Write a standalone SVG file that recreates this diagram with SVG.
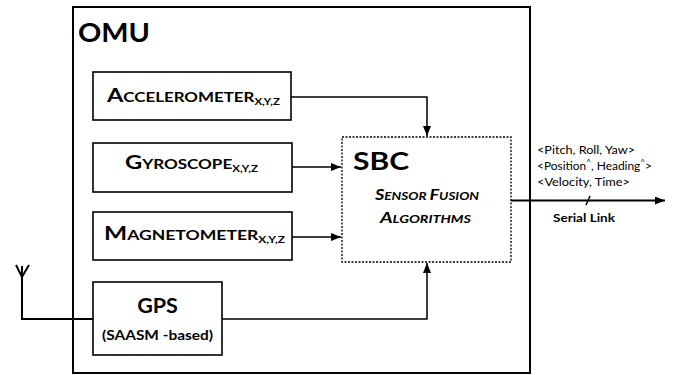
<svg xmlns="http://www.w3.org/2000/svg" width="673" height="375" viewBox="0 0 673 375">
  <style>
    text { font-family: Lato, "Liberation Sans", sans-serif; fill: #000; }
    .b { font-weight: bold; }
    .box { fill: #fff; stroke: #000; stroke-width: 1.6; }
    .omu { fill: none; stroke: #000; stroke-width: 2; }
    .sbc { fill: #fff; stroke: #000; stroke-width: 1.3; stroke-dasharray: 2 1.5; }
    .wire { fill: none; stroke: #000; stroke-width: 1.5; }
    .thick { fill: none; stroke: #000; stroke-width: 2; }
    .small { font-size: 11.5px; }
  </style>
  <defs>
    <marker id="arrow" viewBox="0 0 10 8" refX="10" refY="4" markerWidth="10" markerHeight="8" markerUnits="userSpaceOnUse" orient="auto">
      <path d="M0,0 L10,4 L0,8 Z" fill="#000"/>
    </marker>
  </defs>
  <rect width="673" height="375" fill="#fff"/>

  <!-- outer module -->
  <g id="omu">
    <rect class="omu" x="73" y="7" width="457" height="366"/>
    <text class="b" x="78" y="42" font-size="27" textLength="72" lengthAdjust="spacingAndGlyphs">OMU</text>
  </g>

  <!-- connectors -->
  <g id="connectors">
    <path class="wire" d="M291,97 H427 V136" marker-end="url(#arrow)"/>
    <path class="wire" d="M292,167 H341" marker-end="url(#arrow)"/>
    <path class="wire" d="M292,237 H341" marker-end="url(#arrow)"/>
    <path class="wire" d="M222,319 H427 V263" marker-end="url(#arrow)"/>
    <path class="thick" d="M93,319 H22 V266"/>
    <path class="thick" d="M16,265 L22,277 L29,265"/>
    <path class="thick" d="M511,200.5 H665" marker-end="url(#arrow)"/>
    <path class="wire" d="M586,205 L590,196"/>
  </g>

  <g id="accelerometer">
    <rect class="box" x="93" y="72" width="198" height="48"/>
    <text class="b" x="107" y="102" textLength="173" lengthAdjust="spacingAndGlyphs"><tspan font-size="19.5">A</tspan><tspan font-size="14">CCELEROMETER</tspan><tspan font-size="9.5" dy="3">X,Y,Z</tspan></text>
  </g>

  <g id="gyroscope">
    <rect class="box" x="93" y="143" width="199" height="49"/>
    <text class="b" x="125" y="169" textLength="133" lengthAdjust="spacingAndGlyphs"><tspan font-size="19.5">G</tspan><tspan font-size="14">YROSCOPE</tspan><tspan font-size="9.5" dy="3">X,Y,Z</tspan></text>
  </g>

  <g id="magnetometer">
    <rect class="box" x="93" y="212" width="199" height="48"/>
    <text class="b" x="104" y="240" textLength="181" lengthAdjust="spacingAndGlyphs"><tspan font-size="19.5">M</tspan><tspan font-size="14">AGNETOMETER</tspan><tspan font-size="9.5" dy="3">X,Y,Z</tspan></text>
  </g>

  <g id="gps">
    <rect class="box" x="93" y="282" width="129" height="73"/>
    <text class="b" x="157.5" y="313" font-size="21.5" text-anchor="middle">GPS</text>
    <text class="b" x="157.5" y="340" font-size="14" text-anchor="middle" textLength="111" lengthAdjust="spacingAndGlyphs">(SAASM -based)</text>
  </g>

  <g id="sbc">
    <rect class="sbc" x="342" y="137" width="169" height="125"/>
    <text class="b" x="353" y="170" font-size="25.5" textLength="56" lengthAdjust="spacingAndGlyphs">SBC</text>
    <text class="b" x="375" y="200" font-style="italic" textLength="104" lengthAdjust="spacingAndGlyphs"><tspan font-size="15.5">S</tspan><tspan font-size="11.5">ENSOR </tspan><tspan font-size="15.5">F</tspan><tspan font-size="11.5">USION</tspan></text>
    <text class="b" x="380" y="223" font-style="italic" textLength="91" lengthAdjust="spacingAndGlyphs"><tspan font-size="15.5">A</tspan><tspan font-size="11.5">LGORITHMS</tspan></text>
  </g>

  <!-- output labels -->
  <g id="serial-link">
    <text class="small" x="537" y="154" textLength="98" lengthAdjust="spacingAndGlyphs">&lt;Pitch, Roll, Yaw&gt;</text>
    <text class="small" x="537" y="170" textLength="115" lengthAdjust="spacingAndGlyphs">&lt;Position<tspan font-size="8" dy="-5">^</tspan><tspan dy="5">, Heading</tspan><tspan font-size="8" dy="-5">^</tspan><tspan dy="5">&gt;</tspan></text>
    <text class="small" x="537" y="186" textLength="93" lengthAdjust="spacingAndGlyphs">&lt;Velocity, Time&gt;</text>
    <text class="b" x="553" y="222" font-size="12" textLength="62" lengthAdjust="spacingAndGlyphs">Serial Link</text>
  </g>
</svg>
